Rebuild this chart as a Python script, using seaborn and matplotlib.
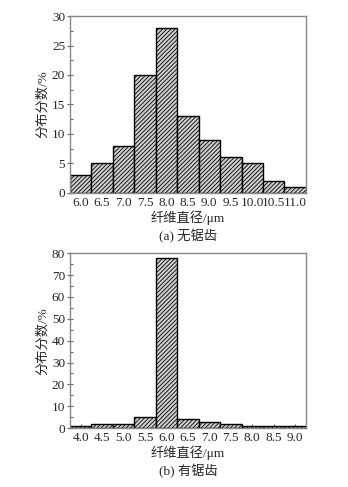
import matplotlib
matplotlib.use("Agg")
import matplotlib.pyplot as plt
import seaborn as sns
import pandas as pd
from matplotlib.ticker import MultipleLocator

sns.set_style("ticks")
plt.rcParams['font.family'] = ['Liberation Serif', 'Noto Sans CJK SC']
plt.rcParams['hatch.linewidth'] = 0.6
plt.rcParams['hatch.color'] = '#222222'

# (a) 无锯齿
diam_a = ['6.0', '6.5', '7.0', '7.5', '8.0', '8.5', '9.0', '9.5', '10.0', '10.5', '11.0']
pct_a = [3, 5, 8, 20, 28, 13, 9, 6, 5, 2, 1]

# (b) 有锯齿
diam_b = ['4.0', '4.5', '5.0', '5.5', '6.0', '6.5', '7.0', '7.5', '8.0', '8.5', '9.0']
pct_b = [1, 2, 2, 5, 78, 4, 3, 2, 1, 1, 1]

fig = plt.figure(figsize=(3.48, 4.87), dpi=100)
ax1 = fig.add_axes([0.201, 0.604, 0.678, 0.363])
ax2 = fig.add_axes([0.201, 0.121, 0.678, 0.359])

fs = 9.5


def draw(ax, cats, vals, ymax, major, minor, caption):
    df = pd.DataFrame({'d': cats, 'p': vals})
    sns.barplot(data=df, x='d', y='p', ax=ax, width=1.0, color='#cfcfcf',
                edgecolor='black', linewidth=1.0, hatch='////////')
    ax.set_xlim(-0.5, len(cats) - 0.5)
    ax.set_ylim(0, ymax)
    ax.yaxis.set_major_locator(MultipleLocator(major))
    ax.yaxis.set_minor_locator(MultipleLocator(minor))
    for s in ax.spines.values():
        s.set_color('#888888')
        s.set_linewidth(1.0)
        s.set_visible(True)
    ax.tick_params(axis='y', which='major', direction='inout', length=5,
                   width=0.8, color='#666666', labelsize=fs, pad=1)
    ax.tick_params(axis='y', which='minor', direction='in', length=2.5,
                   width=0.8, color='#666666')
    ax.tick_params(axis='x', direction='in', length=3, width=0.8,
                   color='#666666', labelsize=fs, pad=3)
    ax.set_ylabel('分布分数/%', fontsize=fs, labelpad=2)
    ax.set_xlabel('纤维直径/μm', fontsize=fs, labelpad=1)
    ax.text(0.5, -0.245, caption, transform=ax.transAxes, ha='center',
            va='center', fontsize=fs)


draw(ax1, diam_a, pct_a, 30, 5, 2.5, '(a) 无锯齿')
draw(ax2, diam_b, pct_b, 80, 10, 5, '(b) 有锯齿')

fig.savefig('out.png', dpi=100)
